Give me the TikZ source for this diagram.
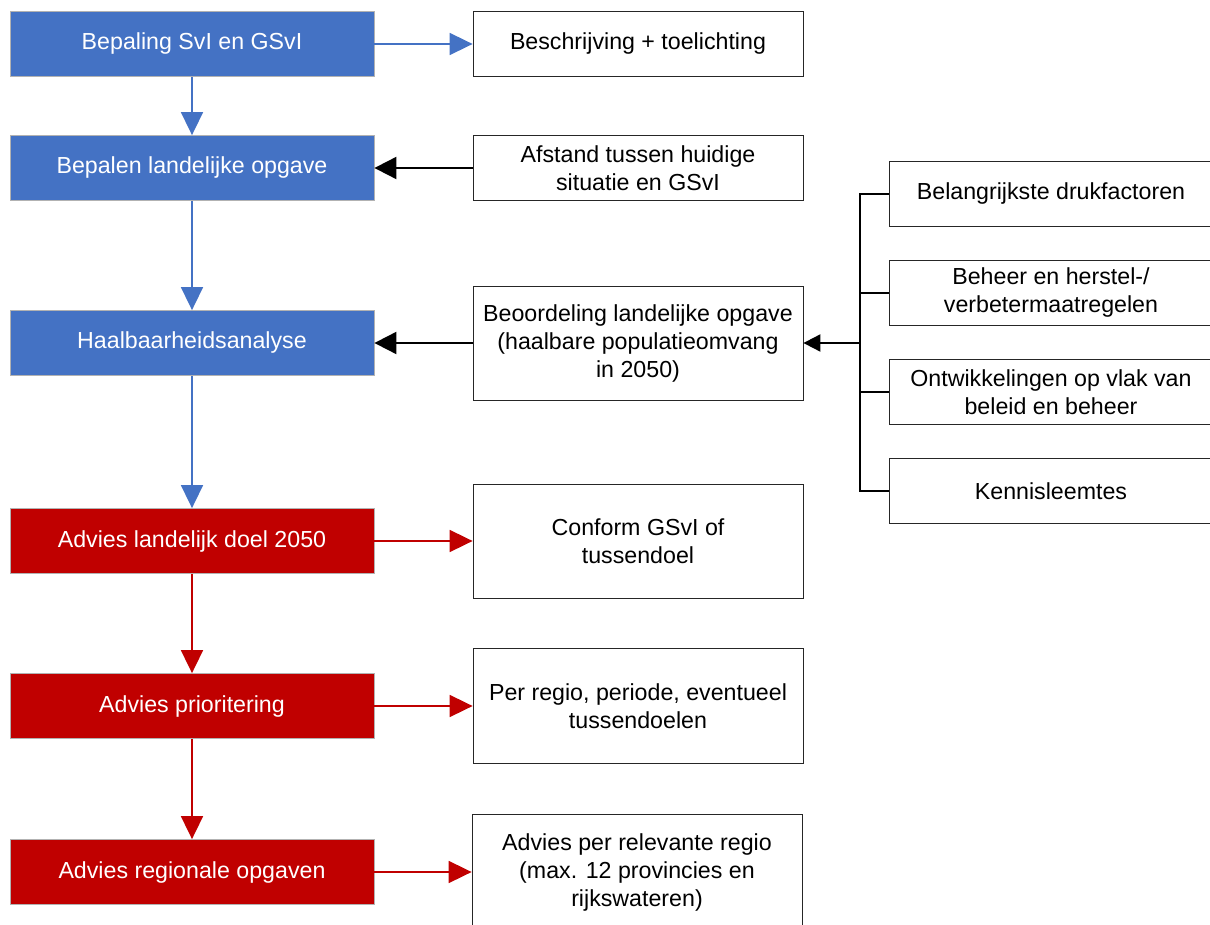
\documentclass[tikz,border=0pt]{standalone}
\usepackage{fontspec}
\setmainfont{Liberation Sans}
\usetikzlibrary{arrows.meta,positioning}
\definecolor{stapblauw}{HTML}{4472C4}
\definecolor{adviesrood}{HTML}{C00000}

\begin{document}
\begin{tikzpicture}[
    on grid,
    stap/.style={fill=stapblauw, draw=black!30, thin, text=white, minimum width=182pt, minimum height=32.5pt, inner sep=0pt, align=center, font=\fontsize{11.6}{14}\selectfont},
    advies/.style={stap, fill=adviesrood},
    uitleg/.style={draw=black!85, fill=white, thin, minimum width=165pt, minimum height=32.5pt, inner sep=0pt, align=center, font=\fontsize{11.6}{14}\selectfont},
    factor/.style={uitleg, minimum width=162pt},
    blauwpijl/.style={-{Triangle[length=11.5pt, width=11pt]}, line width=0.85pt, stapblauw},
    roodpijl/.style={-{Triangle[length=11.5pt, width=11pt]}, line width=0.9pt, adviesrood},
    zwartpijl/.style={-{Triangle[length=11pt, width=11pt]}, line width=1pt, black},
    tak/.style={line width=1pt, black}
]
    \useasboundingbox (0,0) rectangle (605pt,-462.5pt);

    % Stappen (links)
    \node[stap] (bepaling) at (96pt,-22pt) {Bepaling SvI en GSvI};
    \node[stap, below=62pt of bepaling] (landelijk) {Bepalen landelijke opgave};
    \node[stap, below=87.5pt of landelijk] (haalbaar) {Haalbaarheidsanalyse};
    \node[advies, below=99pt of haalbaar] (doel) {Advies landelijk doel 2050};
    \node[advies, below=82.5pt of doel] (prio) {Advies prioritering};
    \node[advies, below=83pt of prio] (regio) {Advies regionale opgaven};

    % Toelichting (midden)
    \node[uitleg, right=223pt of bepaling] (beschrijving) {Beschrijving + toelichting};
    \node[uitleg, right=223pt of landelijk] (afstand) {Afstand tussen huidige\\situatie en GSvI};
    \node[uitleg, right=223pt of haalbaar, minimum height=57pt] (beoordeling) {Beoordeling landelijke opgave\\(haalbare populatieomvang\\in 2050)};
    \node[uitleg, right=223pt of doel, minimum height=57pt] (conform) {Conform GSvI of\\tussendoel};
    \node[uitleg, right=223pt of prio, minimum height=57.5pt] (perregio) {Per regio, periode, eventueel\\tussendoelen};
    \node[uitleg, right=222.5pt of regio, minimum height=57.5pt] (relevant) {Advies per relevante regio\\(max. 12 provincies en\\rijkswateren)};

    % Factoren (rechts)
    \node[factor, right=206.5pt of beoordeling, yshift=25pt] (beheer) {Beheer en herstel-/\\verbetermaatregelen};
    \node[factor, above=49.5pt of beheer] (druk) {Belangrijkste drukfactoren};
    \node[factor, below=49.5pt of beheer] (ontwikkeling) {Ontwikkelingen op vlak van\\beleid en beheer};
    \node[factor, below=49.5pt of ontwikkeling] (kennis) {Kennisleemtes};
    \coordinate[right=111pt of beoordeling] (bus);

    % Verbindingen
    \draw[blauwpijl] (bepaling) -- (beschrijving);
    \draw[blauwpijl] (bepaling) -- (landelijk);
    \draw[blauwpijl] (landelijk) -- (haalbaar);
    \draw[blauwpijl] (haalbaar) -- (doel);
    \draw[roodpijl] (doel) -- (conform);
    \draw[roodpijl] (doel) -- (prio);
    \draw[roodpijl] (prio) -- (perregio);
    \draw[roodpijl] (prio) -- (regio);
    \draw[roodpijl] (regio) -- (relevant);
    \draw[zwartpijl] (afstand) -- (landelijk);
    \draw[zwartpijl] (beoordeling) -- (haalbaar);

    % Factoren naar beoordeling
    \draw[tak] (druk.west) -| (bus) |- (kennis.west);
    \draw[tak] (beheer.west) -- (beheer.west -| bus);
    \draw[tak] (ontwikkeling.west) -- (ontwikkeling.west -| bus);
    \draw[zwartpijl, -{Triangle[length=8.5pt, width=8.5pt]}] (bus) -- (beoordeling.east);
\end{tikzpicture}
\end{document}
